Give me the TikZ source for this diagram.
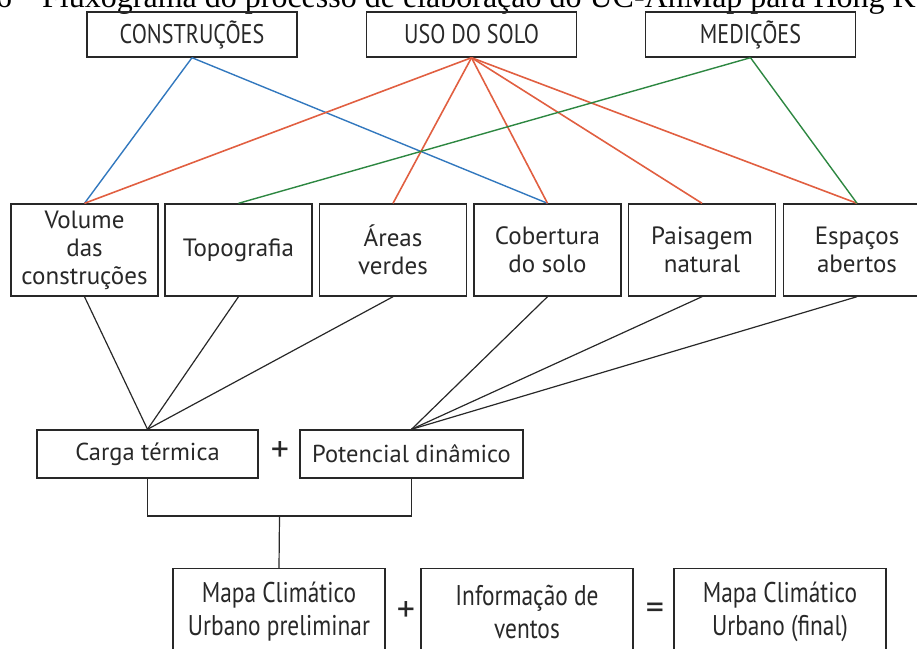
\documentclass[tikz,border=0pt]{standalone}
\usepackage{fontspec}
\setmainfont{PT Sans}
\newfontfamily\capfont{Liberation Serif}
\newfontfamily\condfont[FakeStretch=0.82]{PT Sans}
\definecolor{linkblue}{RGB}{50,120,190}
\definecolor{linkred}{RGB}{225,95,65}
\definecolor{linkgreen}{RGB}{45,135,65}
\definecolor{ink}{RGB}{40,40,40}
\begin{document}
\begin{tikzpicture}[x=1pt,y=-1pt,
  boxbase/.style={draw=ink, line width=1.4pt, inner sep=0pt, align=center, text=ink},
  topbox/.style={boxbase, minimum width=210pt, minimum height=45pt,
    font=\condfont\fontsize{27}{29}\selectfont},
  midbox/.style={boxbase, minimum width=147pt, minimum height=92pt,
    font=\fontsize{25}{28}\selectfont},
  sumbox/.style={boxbase, minimum height=48pt,
    font=\fontsize{24.5}{26}\selectfont},
  botbox/.style={boxbase, minimum width=212pt, minimum height=112pt, anchor=north},
  bottext/.style={align=center, text=ink, inner sep=0pt,
    font=\condfont\fontsize{28.5}{33}\selectfont},
  opsym/.style={text=ink, inner sep=0pt, font=\fontsize{36}{36}\selectfont},
  captext/.style={inner sep=0pt, text=black, font=\capfont\fontsize{32}{32}\selectfont},
  blueline/.style={linkblue, line width=1.4pt},
  redline/.style={linkred, line width=1.6pt},
  greenline/.style={linkgreen, line width=1.4pt},
  blackline/.style={ink, line width=1.2pt}
]
\useasboundingbox (0,0) rectangle (917,648);
\clip (0,0) rectangle (917,648);

% caption line above the chart
\node[captext, anchor=base west] (caption) at (42,7)
  {Fluxograma do processo de elaboração do UC-AnMap para Hong Kong};
\node[captext, anchor=base east] (capnum) at (12,7) {6};

% source layers
\node[topbox] (constr) at (192,34.5) {CONSTRUÇÕES};
\node[topbox] (uso) at (471.5,34.5) {USO DO SOLO};
\node[topbox] (medic) at (750.5,34.5) {MEDIÇÕES};

% derived layers
\node[midbox] (vol) at (84.5,250) {Volume\\das\\construções};
\node[midbox] (topo) at (238.5,250) {Topografia};
\node[midbox] (areas) at (393,250) {Áreas\\verdes};
\node[midbox] (cober) at (547.5,250) {Cobertura\\do solo};
\node[midbox] (paisag) at (702,250) {Paisagem\\natural};
\node[midbox] (espac) at (857,250) {Espaços\\abertos};

% links from source layers
\draw[blueline] (constr.south) -- (vol.north);
\draw[blueline] (constr.south) -- (cober.north);
\draw[redline] (uso.south) -- (vol.north);
\draw[redline] (uso.south) -- (areas.north);
\draw[redline] (uso.south) -- (cober.north);
\draw[redline] (uso.south) -- (paisag.north);
\draw[redline] (uso.south) -- (espac.north);
\draw[greenline] (medic.south) -- (topo.north);
\draw[greenline] (medic.south) -- (espac.north);

% intermediate results
\node[sumbox, minimum width=221pt] (carga) at (147.5,454) {Carga térmica};
\node[sumbox, minimum width=223pt] (pot) at (411.5,454) {Potencial dinâmico};
\node[opsym] (plusA) at (280,452) {+};

\draw[blackline] (vol.south) -- (carga.north);
\draw[blackline] (topo.south) -- (carga.north);
\draw[blackline] (areas.south) -- (carga.north);
\draw[blackline] (cober.south) -- (pot.north);
\draw[blackline] (paisag.south) -- (pot.north);
\draw[blackline] (espac.south) -- (pot.north);

% final combination
\coordinate (join) at (279.5,516);
\node[botbox] (mapa) at (279,568) {};
\node[botbox] (info) at (527,568) {};
\node[botbox] (final) at (780,568) {};
\node[bottext] (mapaT) at (279,612) {Mapa Climático\\Urbano preliminar};
\node[bottext] (infoT) at (527,612) {Informação de\\ventos};
\node[bottext] (finalT) at (780,612) {Mapa Climático\\Urbano (final)};
\node[opsym] (plusB) at (406,611) {+};
\node[opsym] (equal) at (655,611) {=};

\draw[blackline] (carga.south) |- (join) -| (pot.south);
\draw[blackline] (join) -- (mapa.north);
\end{tikzpicture}
\end{document}
